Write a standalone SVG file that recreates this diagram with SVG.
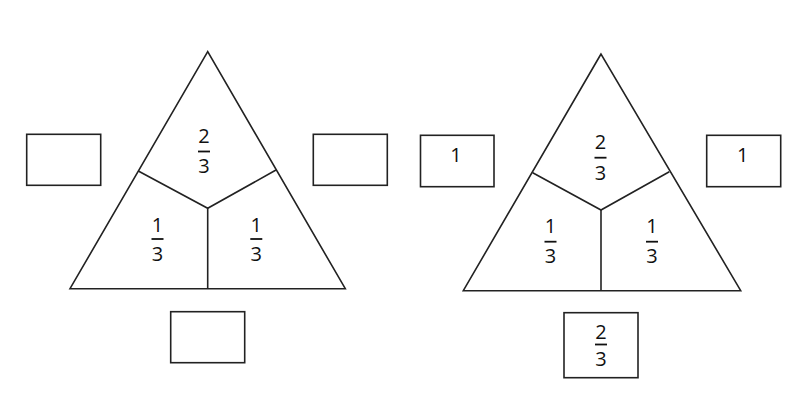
<svg xmlns="http://www.w3.org/2000/svg" width="800" height="402" viewBox="0 0 800 402">
<style>
.ln{fill:none;stroke:#222;stroke-width:1.6;stroke-linejoin:miter}
.bx{fill:#fff;stroke:#222;stroke-width:1.6}
.t{font-family:"Open Sans","Noto Sans","DejaVu Sans",sans-serif;font-size:20px;fill:#111;text-anchor:middle}
.bar{stroke:#111;stroke-width:1.8}
</style>
<rect width="800" height="402" fill="#fff"/>
<g id="triangle-left">
<polygon class="ln" points="207.7,51.7 70,288.7 345.3,288.7"/>
<g id="left-dividers">
<polyline class="ln" points="138.3,171 207.7,208.3 276,170"/>
<line class="ln" x1="207.7" y1="208.3" x2="207.7" y2="288.7"/>
</g>
<g id="left-top-frac"><text class="t" x="204" y="143">2</text><line class="bar" x1="198" y1="151.5" x2="210" y2="151.5"/><text class="t" x="204" y="173.3">3</text></g>
<g id="left-left-frac"><text class="t" x="157.5" y="231.7">1</text><line class="bar" x1="151.5" y1="239" x2="163.5" y2="239"/><text class="t" x="157.5" y="260.7">3</text></g>
<g id="left-right-frac"><text class="t" x="256.3" y="231.7">1</text><line class="bar" x1="250.3" y1="239" x2="262.3" y2="239"/><text class="t" x="256.3" y="260.7">3</text></g>
</g>
<g id="box-left-left"><rect class="bx" x="26.7" y="134.3" width="74" height="51"/></g>
<g id="box-left-right"><rect class="bx" x="313.3" y="134.3" width="74" height="51"/></g>
<g id="box-left-bottom"><rect class="bx" x="170.7" y="311.7" width="74" height="51"/></g>
<g id="triangle-right">
<polygon class="ln" points="601,54 463.3,290.7 740.7,290.7"/>
<g id="right-dividers">
<polyline class="ln" points="532.7,172.7 601,210 669.3,171.7"/>
<line class="ln" x1="601" y1="210" x2="601" y2="290.7"/>
</g>
<g id="right-top-frac"><text class="t" x="600.5" y="149.3">2</text><line class="bar" x1="594.5" y1="157.7" x2="606.5" y2="157.7"/><text class="t" x="600.5" y="180">3</text></g>
<g id="right-left-frac"><text class="t" x="550.5" y="233.3">1</text><line class="bar" x1="544.5" y1="241.7" x2="556.5" y2="241.7"/><text class="t" x="550.5" y="262.7">3</text></g>
<g id="right-right-frac"><text class="t" x="652" y="233.3">1</text><line class="bar" x1="646" y1="241.7" x2="658" y2="241.7"/><text class="t" x="652" y="262.7">3</text></g>
</g>
<g id="box-right-left"><rect class="bx" x="420.5" y="135.3" width="73.5" height="51.4"/><text class="t" x="456" y="161.7">1</text></g>
<g id="box-right-right"><rect class="bx" x="706.7" y="135.3" width="74" height="51.4"/><text class="t" x="742.7" y="161.7">1</text></g>
<g id="box-right-bottom"><rect class="bx" x="564" y="312.7" width="74" height="65"/><text class="t" x="601" y="339.3">2</text><line class="bar" x1="595" y1="344.5" x2="607" y2="344.5"/><text class="t" x="601" y="366">3</text></g>
</svg>
